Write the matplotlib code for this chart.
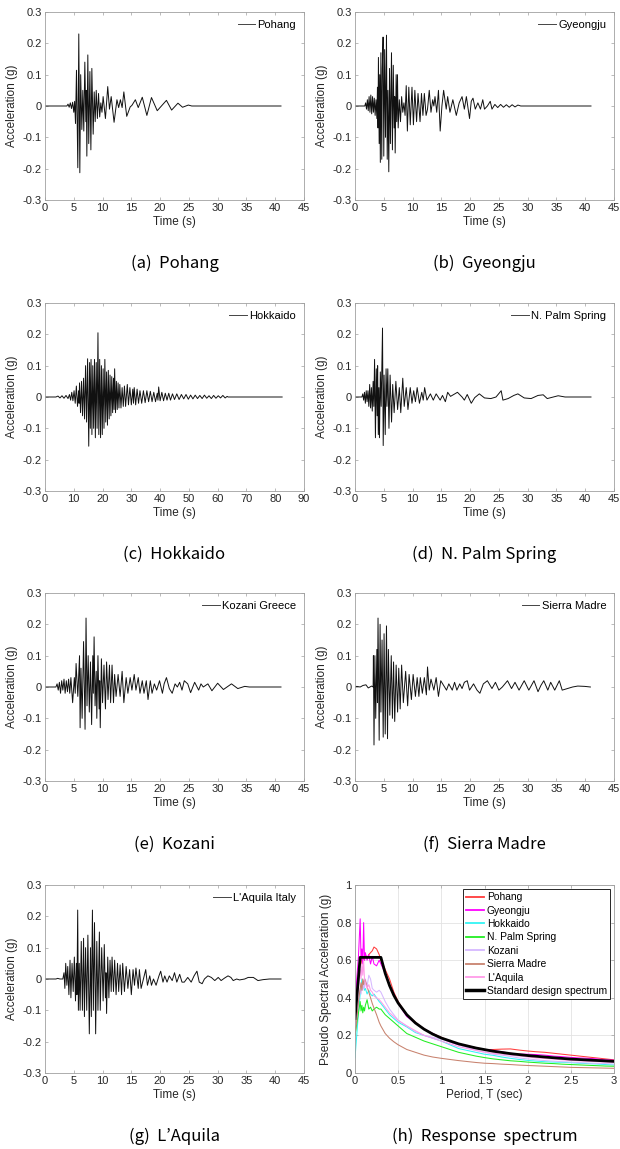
import numpy as np
import matplotlib
matplotlib.use('Agg')
import matplotlib.pyplot as plt

plt.rcParams['font.family'] = ['Liberation Sans', 'DejaVu Sans']

# ---- ground motion records (turning points) ----
pohang_t = [0.0, 3.8, 4.0, 4.2, 4.4, 4.6, 4.8, 5.0, 5.15, 5.3, 5.47, 5.7, 5.87, 6.05, 6.2, 6.4,
            6.57, 6.74, 6.92, 7.1, 7.18, 7.27, 7.44, 7.6, 7.8, 7.97, 8.14, 8.37, 8.55, 8.72, 8.9,
            9.1, 9.3, 9.5, 9.7, 9.9, 10.1, 10.5, 10.9, 11.2, 11.5, 12.0, 12.5, 12.8, 13.1, 13.4,
            13.7, 14.2, 14.8, 15.1, 15.7, 16.2, 16.9, 17.7, 18.5, 19.5, 21.1, 22.0, 23.1, 23.9,
            24.9, 25.5, 41.0]
pohang_a = [0.0, 0.0, 0.006, -0.004, 0.01, -0.008, 0.012, -0.02, 0.015, -0.056, 0.114, -0.197,
            0.23, -0.213, 0.1, -0.075, 0.05, -0.08, 0.14, -0.05, 0.05, -0.16, 0.163, -0.12, 0.11,
            -0.14, 0.12, -0.09, 0.045, -0.05, 0.05, -0.04, 0.04, -0.035, 0.01, -0.02, 0.03, -0.04,
            0.062, -0.01, 0.03, -0.052, 0.02, -0.005, 0.02, -0.005, 0.045, -0.033, -0.003, 0.002,
            0.02, -0.005, 0.028, -0.03, 0.027, -0.015, 0.018, -0.013, 0.009, -0.004, 0.003, 0.0,
            0.0]

gyeongju_t = [0.0, 1.7, 1.85, 2.0, 2.15, 2.3, 2.45, 2.6, 2.75, 2.9, 3.05, 3.2, 3.35, 3.5, 3.65,
              3.8, 3.9, 4.0, 4.07, 4.2, 4.3, 4.4, 4.5, 4.65, 4.75, 4.88, 5.0, 5.15, 5.3, 5.47,
              5.6, 5.72, 5.87, 6.0, 6.15, 6.34, 6.5, 6.65, 6.8, 6.9, 6.98, 7.15, 7.25, 7.38, 7.5,
              7.7, 7.9, 8.1, 8.3, 8.5, 8.7, 8.9, 9.1, 9.35, 9.6, 9.9, 10.15, 10.4, 10.7, 10.95,
              11.3, 11.55, 11.8, 12.05, 12.35, 12.6, 12.9, 13.2, 13.5, 13.7, 13.9, 14.2, 14.5,
              14.8, 15.1, 15.4, 15.85, 16.1, 16.5, 17.0, 17.6, 18.1, 18.6, 19.0, 19.35, 19.9,
              20.2, 20.5, 20.9, 21.35, 21.8, 22.2, 22.5, 23.0, 23.5, 23.8, 24.3, 24.8, 25.3,
              25.8, 26.3, 26.8, 27.3, 27.8, 28.3, 28.8, 41.0]
gyeongju_a = [0.0, 0.0, 0.01, -0.01, 0.02, -0.015, 0.03, -0.02, 0.035, -0.025, 0.03, -0.02, 0.025,
              -0.03, 0.02, -0.04, 0.06, -0.07, 0.155, -0.12, 0.1, -0.18, 0.17, -0.17, 0.12, 0.22,
              -0.16, 0.18, -0.1, 0.226, -0.17, 0.05, -0.21, 0.12, -0.12, 0.17, -0.14, 0.13, -0.07,
              0.03, -0.15, 0.1, -0.05, 0.1, -0.07, 0.02, -0.05, 0.03, -0.02, 0.01, -0.03, 0.065,
              -0.08, 0.06, -0.06, 0.06, -0.06, 0.05, -0.05, 0.04, -0.05, 0.04, -0.03, 0.04, -0.03,
              -0.01, 0.05, -0.02, 0.02, 0.0, 0.03, -0.02, 0.05, -0.08, 0.0, 0.05, -0.01, 0.03,
              -0.02, 0.02, -0.03, 0.01, 0.03, -0.01, 0.03, -0.04, 0.015, 0.025, -0.01, 0.01, -0.01,
              0.02, -0.01, 0.0, 0.015, -0.01, 0.005, -0.005, 0.005, -0.004, 0.004, -0.004, 0.004,
              -0.003, 0.003, 0.0, 0.0]

hokkaido_t = [0.0, 3.8, 4.5, 5.2, 5.9, 6.6, 7.3, 8.0, 8.5, 8.9, 9.3, 9.7, 10.1, 10.5, 10.9, 11.3,
              11.7, 11.85, 12.0, 12.35, 12.7, 13.05, 13.4, 13.75, 14.1, 14.45, 14.8, 15.2, 15.5,
              15.75, 16.0, 16.3, 16.6, 16.9, 17.2, 17.5, 17.8, 18.1, 18.4, 18.7, 19.0, 19.3, 19.6,
              19.9, 20.2, 20.5, 20.8, 21.1, 21.4, 21.7, 22.0, 22.3, 22.6, 22.9, 23.2, 23.5, 23.8,
              24.0, 24.2, 24.5, 24.8, 25.1, 25.4, 25.7, 26.0, 26.4, 26.8, 27.2, 27.6, 28.0, 28.6,
              29.0, 29.5, 30.0, 30.5, 30.75, 31.0, 31.5, 32.0, 32.5, 33.0, 33.6, 34.2, 34.8,
              35.4, 36.0, 36.6, 37.2, 37.8, 38.4, 39.0, 39.25, 39.5, 40.0, 40.6, 41.2, 41.8,
              42.4, 43.0, 43.6, 44.3, 45.0, 45.8, 46.6, 47.4, 48.2, 49.0, 49.8, 50.6, 51.4, 52.2,
              53.0, 53.8, 54.6, 55.4, 56.2, 57.0, 57.8, 58.6, 59.4, 60.2, 61.0, 61.8, 62.6, 63.3,
              63.6, 82.4]
hokkaido_a = [0.0, 0.0, 0.003, -0.003, 0.004, -0.004, 0.005, -0.005, 0.008, -0.01, 0.015, -0.012,
              0.02, -0.02, 0.035, -0.03, 0.02, -0.02, 0.045, -0.05, 0.05, -0.06, 0.06, -0.07, 0.1,
              -0.08, 0.122, -0.157, 0.11, -0.1, 0.12, -0.12, 0.1, -0.1, 0.12, -0.13, 0.11, -0.1,
              0.205, -0.12, 0.12, -0.13, 0.1, -0.12, 0.09, -0.1, 0.12, -0.08, 0.08, -0.09, 0.085,
              -0.07, 0.07, -0.06, 0.065, -0.05, 0.06, -0.04, 0.09, -0.05, 0.05, -0.04, 0.045,
              -0.035, 0.04, -0.035, 0.03, -0.03, 0.035, -0.03, 0.04, -0.025, 0.03, -0.025, 0.025,
              -0.02, 0.03, -0.025, 0.025, -0.02, 0.02, -0.02, 0.02, -0.018, 0.02, -0.015, 0.018,
              -0.015, 0.015, -0.015, 0.012, -0.01, 0.032, -0.012, 0.015, -0.012, 0.012, -0.01,
              0.012, -0.01, 0.01, -0.008, 0.01, -0.008, 0.008, -0.006, 0.008, -0.007, 0.006,
              -0.006, 0.006, -0.005, 0.005, -0.005, 0.006, -0.004, 0.004, -0.005, 0.005, -0.004,
              0.004, -0.003, 0.005, -0.003, 0.002, 0.0, 0.0]

palm_t = [0.0, 1.2, 1.35, 1.5, 1.65, 1.8, 1.95, 2.1, 2.25, 2.4, 2.55, 2.7, 2.85, 3.0, 3.15, 3.27,
          3.4, 3.55, 3.7, 3.85, 3.93, 4.05, 4.15, 4.25, 4.4, 4.55, 4.78, 4.9, 5.05, 5.25, 5.4,
          5.55, 5.7, 5.9, 6.1, 6.35, 6.55, 6.8, 7.1, 7.4, 7.7, 7.95, 8.3, 8.55, 8.9, 9.2, 9.6,
          9.9, 10.2, 10.5, 10.8, 11.2, 11.6, 11.85, 12.1, 12.5, 13.1, 13.6, 14.1, 14.8, 15.2,
          15.7, 16.1, 16.6, 17.8, 18.6, 19.0, 19.5, 20.2, 20.8, 21.6, 22.5, 23.6, 24.5, 25.4,
          25.7, 26.6, 27.6, 28.3, 29.4, 30.6, 31.8, 32.7, 33.4, 35.3, 36.5, 41.0]
palm_a = [0.0, 0.0, 0.01, -0.01, 0.015, -0.02, 0.02, -0.015, 0.02, -0.03, 0.04, -0.035, 0.03,
          -0.045, 0.05, -0.03, 0.12, -0.13, 0.09, -0.06, 0.1, -0.12, 0.03, -0.13, 0.08, -0.03,
          0.22, -0.155, 0.07, -0.12, 0.09, -0.03, 0.09, -0.1, 0.07, -0.08, 0.04, -0.05, 0.05,
          -0.04, 0.03, -0.05, 0.06, -0.03, 0.03, -0.04, 0.03, -0.02, 0.02, -0.015, 0.03, -0.02,
          0.015, -0.01, 0.03, -0.01, 0.01, -0.01, 0.01, -0.01, 0.005, -0.015, 0.015, 0.002,
          0.015, 0.0, -0.01, 0.008, -0.02, -0.002, 0.01, -0.003, -0.005, 0.0, 0.02, -0.01,
          -0.005, 0.005, 0.01, -0.003, -0.005, 0.005, 0.007, -0.005, 0.004, 0.0, 0.0]

kozani_t = [0.0, 1.9, 2.1, 2.3, 2.5, 2.7, 2.9, 3.1, 3.3, 3.5, 3.7, 3.9, 4.1, 4.3, 4.5, 4.8, 5.1,
            5.25, 5.4, 5.7, 6.0, 6.1, 6.25, 6.45, 6.7, 6.96, 7.13, 7.3, 7.5, 7.7, 7.9, 8.1, 8.3,
            8.4, 8.53, 8.7, 8.9, 9.0, 9.2, 9.4, 9.5, 9.6, 9.8, 10.0, 10.25, 10.5, 10.7, 10.95,
            11.2, 11.4, 11.65, 11.9, 12.1, 12.35, 12.7, 13.05, 13.4, 13.7, 14.1, 14.4, 14.8,
            15.1, 15.5, 15.8, 16.2, 16.5, 16.9, 17.2, 17.6, 17.9, 18.3, 18.6, 19.0, 19.4, 19.9,
            20.4, 20.7, 21.1, 21.6, 22.1, 22.6, 23.0, 23.4, 23.8, 24.2, 24.8, 25.3, 26.0, 26.7,
            27.1, 27.5, 28.3, 29.0, 30.0, 31.0, 32.4, 33.5, 34.7, 35.5, 41.0]
kozani_a = [0.0, 0.0, 0.01, -0.01, 0.015, -0.02, 0.02, -0.01, 0.025, -0.02, 0.02, -0.015, 0.025,
            -0.02, 0.03, -0.05, 0.03, -0.02, 0.075, -0.03, 0.1, -0.13, 0.06, -0.1, 0.145, -0.135,
            0.22, -0.06, 0.1, -0.08, 0.08, -0.12, 0.1, -0.02, 0.16, -0.06, 0.05, -0.1, 0.1, -0.07,
            0.02, -0.13, 0.09, -0.05, 0.07, -0.07, 0.08, -0.04, 0.07, -0.05, 0.07, -0.05, 0.04,
            -0.03, 0.04, -0.03, 0.05, -0.05, 0.03, -0.02, 0.03, -0.01, 0.04, -0.01, 0.03, -0.02,
            0.02, -0.02, 0.02, -0.04, 0.02, -0.02, 0.01, -0.01, 0.02, -0.02, 0.01, 0.03, -0.005,
            -0.02, 0.01, 0.0, 0.015, -0.01, 0.02, 0.01, -0.018, 0.015, -0.01, 0.01, 0.0, 0.01,
            -0.012, 0.012, -0.008, 0.01, -0.005, 0.002, 0.0, 0.0]

sierra_t = [0.0, 0.3, 0.9, 1.4, 1.9, 2.3, 2.9, 3.15, 3.2, 3.3, 3.45, 3.6, 3.8, 3.9, 4.0, 4.2,
            4.36, 4.5, 4.7, 4.9, 5.05, 5.25, 5.47, 5.65, 5.8, 6.05, 6.3, 6.5, 6.7, 6.9, 7.15,
            7.4, 7.6, 7.85, 8.1, 8.4, 8.8, 9.15, 9.4, 9.8, 10.1, 10.5, 10.8, 11.1, 11.35, 11.7,
            12.05, 12.4, 12.6, 12.9, 13.2, 13.7, 14.1, 14.5, 14.9, 15.4, 15.9, 16.3, 16.9, 17.3,
            17.7, 18.2, 18.6, 19.0, 19.5, 19.9, 20.6, 21.2, 21.7, 22.3, 23.0, 23.8, 24.4, 25.0,
            25.6, 26.5, 27.2, 27.8, 28.5, 29.4, 30.2, 31.1, 31.8, 32.3, 32.8, 33.5, 34.0, 34.7,
            35.5, 36.0, 36.9, 37.8, 38.7, 39.9, 40.9]
sierra_a = [0.0, 0.002, 0.0, 0.005, 0.007, -0.003, 0.003, 0.0, 0.1, -0.185, 0.1, -0.1, 0.12,
            -0.05, 0.22, -0.17, 0.2, -0.08, 0.15, -0.16, 0.17, -0.15, 0.195, -0.165, 0.12, -0.09,
            0.1, -0.1, 0.08, -0.11, 0.07, -0.08, 0.06, -0.07, 0.07, -0.05, 0.05, -0.06, 0.04,
            -0.04, 0.04, -0.03, 0.03, -0.03, 0.03, -0.02, 0.03, -0.025, 0.064, -0.01, 0.025,
            -0.01, 0.03, -0.03, 0.02, 0.005, -0.01, 0.01, -0.01, 0.015, -0.01, 0.01, -0.005,
            0.015, 0.02, -0.01, 0.01, -0.01, -0.02, 0.01, 0.02, -0.005, 0.015, -0.01, 0.0, 0.02,
            -0.005, 0.015, -0.01, 0.02, -0.01, 0.02, -0.015, 0.005, 0.02, -0.01, 0.015, -0.01,
            0.02, -0.01, -0.005, 0.0, 0.003, 0.002, 0.0]

aquila_t = [0.0, 1.9, 2.2, 2.6, 3.1, 3.3, 3.45, 3.6, 3.8, 3.95, 4.15, 4.35, 4.5, 4.7, 4.9, 5.1,
            5.3, 5.45, 5.55, 5.68, 5.8, 5.95, 6.1, 6.3, 6.5, 6.7, 6.85, 7.05, 7.25, 7.45, 7.7,
            7.9, 8.05, 8.24, 8.4, 8.6, 8.8, 9.0, 9.2, 9.45, 9.6, 9.85, 10.1, 10.3, 10.5, 10.6,
            10.7, 10.9, 11.1, 11.3, 11.5, 11.65, 11.9, 12.1, 12.35, 12.6, 12.8, 13.05, 13.3,
            13.5, 13.8, 14.1, 14.4, 14.7, 15.0, 15.3, 15.55, 15.8, 16.2, 16.4, 16.7, 17.1, 17.5,
            17.8, 18.2, 18.5, 18.85, 19.3, 19.8, 20.1, 20.5, 20.8, 21.2, 21.6, 22.1, 22.5, 22.9,
            23.4, 23.8, 24.2, 24.8, 25.4, 25.9, 26.4, 26.8, 27.3, 27.7, 28.3, 28.9, 29.5, 30.1,
            30.6, 31.2, 31.8, 32.3, 32.7, 33.3, 33.8, 34.7, 35.3, 36.2, 37.0, 37.9, 39.0, 41.0]
aquila_a = [0.0, 0.0, 0.002, 0.0, 0.0, 0.02, -0.03, 0.05, -0.02, 0.04, -0.05, 0.06, -0.06, 0.05,
            -0.04, 0.07, -0.07, 0.05, -0.05, 0.22, -0.1, 0.05, -0.1, 0.12, -0.1, 0.13, -0.12,
            0.1, -0.1, 0.14, -0.175, 0.1, -0.12, 0.22, -0.1, 0.18, -0.175, 0.12, -0.1, 0.15,
            -0.1, 0.1, -0.07, 0.11, -0.06, 0.02, -0.11, 0.07, -0.06, 0.06, -0.04, 0.07, -0.04,
            0.06, -0.05, 0.05, -0.04, 0.045, -0.05, 0.05, -0.04, 0.04, -0.03, 0.03, -0.05, 0.03,
            -0.02, 0.035, -0.03, 0.03, -0.03, 0.0, 0.03, -0.02, 0.01, -0.02, 0.0, -0.02, 0.01,
            0.025, -0.01, 0.01, -0.01, 0.01, -0.005, 0.02, -0.01, 0.015, -0.01, -0.01, 0.005,
            -0.01, 0.01, 0.025, -0.01, -0.015, 0.0, 0.01, 0.005, -0.005, 0.005, -0.005, 0.003,
            0.01, 0.005, -0.005, 0.0, -0.003, 0.0, 0.005, 0.005, -0.005, -0.002, 0.0, 0.0]

# ---- response spectra ----
periods = [0.0, 0.02, 0.04, 0.06, 0.07, 0.08, 0.09, 0.1, 0.11, 0.12, 0.14, 0.16, 0.18, 0.2, 0.22,
           0.25, 0.28, 0.3, 0.35, 0.4, 0.45, 0.5, 0.6, 0.7, 0.8, 0.9, 1.0, 1.1, 1.2, 1.3, 1.4,
           1.5, 1.6, 1.7, 1.8, 1.9, 2.0, 2.1, 2.2, 2.3, 2.4, 2.5, 2.6, 2.7, 2.8, 2.9, 3.0]
sa_pohang = [0.23, 0.40, 0.55, 0.62, 0.58, 0.63, 0.6, 0.62, 0.6, 0.63, 0.61, 0.63, 0.64, 0.65,
             0.67, 0.66, 0.63, 0.6, 0.55, 0.5, 0.43, 0.38, 0.31, 0.27, 0.235, 0.21, 0.19, 0.17,
             0.155, 0.145, 0.135, 0.125, 0.125, 0.127, 0.128, 0.122, 0.117, 0.113, 0.11, 0.105,
             0.1, 0.095, 0.09, 0.085, 0.08, 0.075, 0.07]
sa_gyeongju = [0.28, 0.5, 0.62, 0.82, 0.6, 0.66, 0.58, 0.8, 0.6, 0.64, 0.6, 0.63, 0.58, 0.62,
               0.58, 0.57, 0.6, 0.58, 0.53, 0.47, 0.42, 0.37, 0.3, 0.265, 0.235, 0.21, 0.185,
               0.165, 0.15, 0.14, 0.13, 0.125, 0.12, 0.113, 0.105, 0.1, 0.1, 0.098, 0.095, 0.09,
               0.087, 0.083, 0.08, 0.078, 0.075, 0.07, 0.068]
sa_hokkaido = [0.08, 0.2, 0.32, 0.42, 0.46, 0.5, 0.45, 0.48, 0.44, 0.45, 0.42, 0.44, 0.42, 0.41,
               0.42, 0.4, 0.38, 0.37, 0.34, 0.31, 0.29, 0.27, 0.245, 0.215, 0.2, 0.185, 0.17,
               0.15, 0.13, 0.12, 0.11, 0.1, 0.094, 0.085, 0.078, 0.072, 0.067, 0.063, 0.06,
               0.058, 0.057, 0.055, 0.052, 0.05, 0.048, 0.045, 0.043]
sa_palm = [0.2, 0.26, 0.32, 0.38, 0.33, 0.36, 0.32, 0.35, 0.33, 0.36, 0.39, 0.34, 0.35, 0.33,
           0.34, 0.35, 0.34, 0.34, 0.31, 0.29, 0.27, 0.25, 0.21, 0.19, 0.17, 0.155, 0.14, 0.125,
           0.11, 0.1, 0.09, 0.082, 0.075, 0.07, 0.065, 0.062, 0.058, 0.055, 0.052, 0.05, 0.047,
           0.045, 0.043, 0.041, 0.039, 0.037, 0.036]
sa_kozani = [0.25, 0.3, 0.38, 0.45, 0.42, 0.47, 0.44, 0.48, 0.45, 0.5, 0.46, 0.52, 0.5, 0.45,
             0.44, 0.43, 0.44, 0.43, 0.38, 0.34, 0.31, 0.28, 0.25, 0.22, 0.2, 0.19, 0.18, 0.165,
             0.15, 0.135, 0.12, 0.11, 0.1, 0.095, 0.088, 0.08, 0.075, 0.07, 0.066, 0.063, 0.06,
             0.058, 0.055, 0.053, 0.051, 0.05, 0.048]
sa_sierra = [0.2, 0.28, 0.38, 0.45, 0.48, 0.44, 0.5, 0.47, 0.5, 0.49, 0.46, 0.43, 0.4, 0.37,
             0.345, 0.31, 0.27, 0.25, 0.21, 0.185, 0.166, 0.15, 0.125, 0.11, 0.095, 0.085, 0.078,
             0.072, 0.066, 0.061, 0.056, 0.052, 0.05, 0.047, 0.045, 0.042, 0.04, 0.038, 0.036,
             0.034, 0.032, 0.03, 0.029, 0.028, 0.027, 0.026, 0.025]
sa_aquila = [0.25, 0.35, 0.45, 0.55, 0.5, 0.58, 0.52, 0.6, 0.5, 0.48, 0.45, 0.47, 0.44, 0.43,
             0.41, 0.4, 0.39, 0.38, 0.35, 0.32, 0.3, 0.28, 0.25, 0.225, 0.2, 0.185, 0.17, 0.155,
             0.14, 0.13, 0.12, 0.112, 0.105, 0.1, 0.095, 0.09, 0.085, 0.08, 0.077, 0.074, 0.07,
             0.067, 0.064, 0.062, 0.06, 0.058, 0.056]
design_t = [0.0, 0.06, 0.3, 0.35, 0.4, 0.45, 0.5, 0.6, 0.7, 0.8, 0.9, 1.0, 1.2, 1.4, 1.6, 1.8,
            2.0, 2.25, 2.5, 2.75, 3.0]
design_sa = [0.29, 0.615, 0.615, 0.53, 0.465, 0.413, 0.372, 0.31, 0.266, 0.233, 0.207, 0.186,
             0.155, 0.133, 0.116, 0.103, 0.093, 0.083, 0.074, 0.068, 0.062]

records = [
    (pohang_t, pohang_a, 'Pohang', '(a)  Pohang', 45),
    (gyeongju_t, gyeongju_a, 'Gyeongju', '(b)  Gyeongju', 45),
    (hokkaido_t, hokkaido_a, 'Hokkaido', '(c)  Hokkaido', 90),
    (palm_t, palm_a, 'N. Palm Spring', '(d)  N. Palm Spring', 45),
    (kozani_t, kozani_a, 'Kozani Greece', '(e)  Kozani', 45),
    (sierra_t, sierra_a, 'Sierra Madre', '(f)  Sierra Madre', 45),
    (aquila_t, aquila_a, "L'Aquila Italy", '(g)  L\u2019Aquila', 45),
]
spectra = [
    (sa_pohang, 'Pohang', '#ff3b3b'),
    (sa_gyeongju, 'Gyeongju', '#ff00ff'),
    (sa_hokkaido, 'Hokkaido', '#33f5f5'),
    (sa_palm, 'N. Palm Spring', '#22ee22'),
    (sa_kozani, 'Kozani', '#d6b8ff'),
    (sa_sierra, 'Sierra Madre', '#c8826e'),
    (sa_aquila, "L'Aquila", '#ff9be8'),
]

W, H = 620, 1149
fig = plt.figure(figsize=(W / 100, H / 100), dpi=100)
col_left = [45, 355]
ax_w = 259
ax_h = 188
row_bottom = [200, 491, 781, 1073]
cap_font = ['Noto Sans CJK KR', 'DejaVu Sans']


def style(ax):
    for s in ax.spines.values():
        s.set_color('#a0a0a0')
        s.set_linewidth(0.6)
    ax.tick_params(direction='in', top=True, right=True, length=2.5, width=0.5,
                   color='#a0a0a0', labelsize=8, labelcolor='#262626', pad=2.5)


def make_axes(i):
    r, c = divmod(i, 2)
    left = col_left[c]
    bottom = row_bottom[r]
    ax = fig.add_axes([left / W, 1 - bottom / H, ax_w / W, ax_h / H])
    return ax, left, bottom


for i, (t, a, lab, cap, xmax) in enumerate(records):
    ax, left, bottom = make_axes(i)
    ax.plot(t, a, color='#111111', lw=0.7, label=lab)
    ax.set_xlim(0, xmax)
    ax.set_ylim(-0.3, 0.3)
    step = 10 if xmax == 90 else 5
    ax.set_xticks(np.arange(0, xmax + 1, step))
    ax.set_yticks([-0.3, -0.2, -0.1, 0, 0.1, 0.2, 0.3])
    ax.set_yticklabels(['-0.3', '-0.2', '-0.1', '0', '0.1', '0.2', '0.3'])
    style(ax)
    ax.set_xlabel('Time (s)', fontsize=8.5, color='#262626', labelpad=2)
    ax.set_ylabel('Acceleration (g)', fontsize=8.5, color='#262626', labelpad=3)
    leg = ax.legend(loc='upper right', frameon=False, fontsize=8, handlelength=1.6,
                    handletextpad=0.2, borderaxespad=0.3)
    for ln in leg.get_lines():
        ln.set_color('#444444')
    fig.text((left + ax_w / 2) / W, 1 - (bottom + 63) / H, cap, ha='center', va='center',
             fontsize=12, family=cap_font)

# response spectrum panel
ax, left, bottom = make_axes(7)
ax.grid(True, color='#e3e3e3', lw=0.6)
ax.set_axisbelow(True)
for sa, lab, col in spectra:
    ax.plot(periods, sa, color=col, lw=0.75, label=lab)
ax.plot(design_t, design_sa, color='black', lw=2.0, label='Standard design spectrum')
ax.set_xlim(0, 3)
ax.set_ylim(0, 1)
ax.set_xticks([0, 0.5, 1, 1.5, 2, 2.5, 3])
ax.set_xticklabels(['0', '0.5', '1', '1.5', '2', '2.5', '3'])
ax.set_yticks([0, 0.2, 0.4, 0.6, 0.8, 1])
ax.set_yticklabels(['0', '0.2', '0.4', '0.6', '0.8', '1'])
style(ax)
ax.set_xlabel('Period, T (sec)', fontsize=8.5, color='#262626', labelpad=2)
ax.set_ylabel('Pseudo Spectral Acceleration (g)', fontsize=8.5, color='#262626', labelpad=3)
leg = ax.legend(loc='upper right', fontsize=7.4, handlelength=1.7, handletextpad=0.3,
                labelspacing=0.33, borderaxespad=0.4, borderpad=0.3, fancybox=False,
                framealpha=1)
leg.get_frame().set_edgecolor('#262626')
leg.get_frame().set_linewidth(0.7)
for ln in leg.get_lines()[:-1]:
    ln.set_linewidth(1.3)
leg.get_lines()[-1].set_linewidth(2.5)
fig.text((left + ax_w / 2) / W, 1 - (bottom + 63) / H, '(h)  Response  spectrum',
         ha='center', va='center', fontsize=12, family=cap_font)

fig.savefig('out.png', dpi=100)
